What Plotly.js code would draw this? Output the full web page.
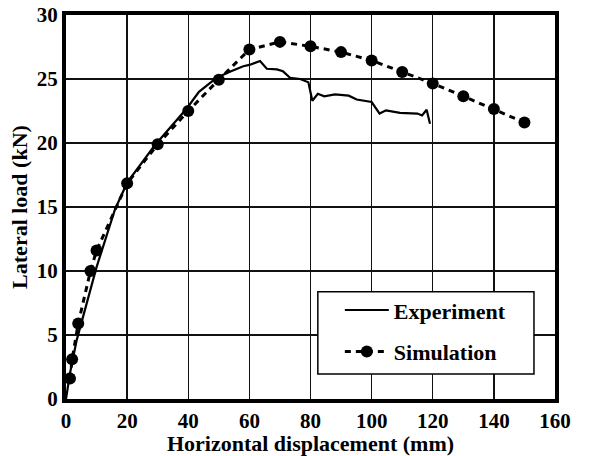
<!DOCTYPE html>
<html>
<head>
<meta charset="utf-8">
<script src="https://cdn.plot.ly/plotly-3.0.1.min.js"></script>
<style>html,body{margin:0;padding:0;background:#fff;}#chart{width:590px;height:456px;}</style>
</head>
<body>
<div id="chart"></div>
<script>
// Experiment curve
const expX = [0, 1.3, 3.5, 10, 16, 20, 29, 39.5, 43.5, 49.3, 54, 58, 60, 63.5, 65.7, 69, 71, 73.3, 76.6, 79.3, 80.6, 82.4, 84.5, 88, 92.5, 95.1, 100, 102.6, 104.7, 109.3, 115, 116.5, 118, 119.1];
const expY = [0, 2.0, 4.6, 10.3, 14.8, 16.9, 19.8, 22.7, 24.0, 25.1, 25.6, 26.0, 26.1, 26.4, 25.8, 25.75, 25.6, 25.1, 25.0, 24.75, 23.3, 23.85, 23.65, 23.8, 23.7, 23.4, 23.2, 22.3, 22.55, 22.35, 22.3, 22.15, 22.6, 21.5];
// Simulation curve
const simX = [1.3, 2, 4, 8, 10, 20, 30, 40, 50, 60, 70, 80, 90, 100, 110, 120, 130, 140, 150];
const simY = [1.6, 3.1, 5.9, 10.0, 11.6, 16.85, 19.9, 22.5, 24.95, 27.3, 27.9, 27.55, 27.1, 26.45, 25.55, 24.65, 23.65, 22.65, 21.6];
const xTicks = [0, 20, 40, 60, 80, 100, 120, 140, 160];
const yTicks = [0, 5, 10, 15, 20, 25, 30];
const seriesNames = ['Experiment', 'Simulation'];

const F = 'Liberation Serif, Times New Roman, serif';
const traces = [
  {x: expX, y: expY, mode: 'lines', name: '<b>' + seriesNames[0] + '</b>', legendgroup: 'a',
   line: {color: '#000', width: 2.2}},
  {x: simX, y: simY, mode: 'lines+markers', name: '<b>' + seriesNames[1] + '</b>', legendgroup: 'b',
   line: {color: '#000', width: 3, dash: '6px,5px'},
   marker: {color: '#000', size: 12, symbol: 'circle'}}
];
const axisCommon = {
  showline: true, mirror: true, linecolor: '#000', linewidth: 4,
  showgrid: true, gridcolor: '#111', gridwidth: 1.3,
  zeroline: false, ticks: '', fixedrange: true,
  tickfont: {family: F, size: 21, color: '#000'}
};
const layout = {
  width: 590, height: 456,
  margin: {l: 66, r: 35, t: 15, b: 57},
  paper_bgcolor: '#fff', plot_bgcolor: '#fff',
  showlegend: true,
  xaxis: Object.assign({}, axisCommon, {
    range: [0, 160], tickvals: xTicks, ticktext: xTicks.map(v => '<b>' + v + '</b>'),
    title: {text: '<b>Horizontal displacement (mm)</b>', standoff: 3,
            font: {family: F, size: 22, color: '#000'}}
  }),
  yaxis: Object.assign({}, axisCommon, {
    range: [0, 30], tickvals: yTicks, ticktext: yTicks.map(v => '<b>' + v + '</b>'),
    title: {text: '<b>Lateral load (kN)</b>', standoff: 4,
            font: {family: F, size: 22, color: '#000'}}
  }),
  shapes: [{
    type: 'rect', xref: 'paper', yref: 'paper',
    x0: 0.515, x1: 0.957, y0: 0.065, y1: 0.279,
    line: {color: '#000', width: 1.5}, fillcolor: '#fff', layer: 'above'
  }],
  legend: {
    x: 0.56, y: 0.286, xanchor: 'left', yanchor: 'top',
    bgcolor: 'rgba(0,0,0,0)', borderwidth: 0,
    font: {family: F, size: 22, color: '#000'},
    tracegroupgap: 10, itemwidth: 44
  }
};
Plotly.newPlot('chart', traces, layout, {displayModeBar: false, staticPlot: true});
</script>
</body>
</html>
